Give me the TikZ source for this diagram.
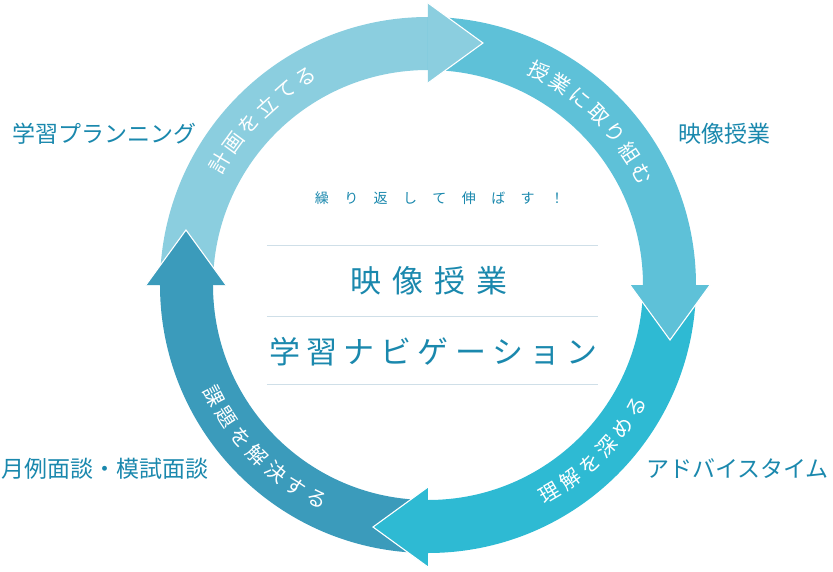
\documentclass[tikz,border=0pt]{standalone}
\usepackage{fontspec}
\setmainfont{Noto Sans CJK JP}
\definecolor{cA}{HTML}{8BCEDF}
\definecolor{cB}{HTML}{5EC1D8}
\definecolor{cC}{HTML}{2EBAD3}
\definecolor{cD}{HTML}{3B9BBB}
\definecolor{txt}{HTML}{1A88AD}
\definecolor{sep}{HTML}{CFDFE8}
\begin{document}
\begin{tikzpicture}[x=1pt,y=1pt,
  headedge/.style={draw=white,line width=1.1pt,line join=miter},
  bandtxt/.style={text=white,font=\fontsize{20.5}{20.5}\selectfont,inner sep=0pt},
  outlbl/.style={text=txt,font=\fontsize{23}{23}\selectfont,inner sep=0pt},
  sepline/.style={draw=sep,line width=0.9pt}]
\useasboundingbox (-428,-286) rectangle (405,285);
\def\Ro{268}\def\Ri{215}
% bands
\fill[cA] (180:\Ro) arc[start angle=180,end angle=90,radius=\Ro] -- (90:\Ri) arc[start angle=90,end angle=180,radius=\Ri] -- cycle;
\fill[cB] (90:\Ro) arc[start angle=90,end angle=0,radius=\Ro] -- (0:\Ri) arc[start angle=0,end angle=90,radius=\Ri] -- cycle;
\fill[cC] (0:\Ro) arc[start angle=0,end angle=-90,radius=\Ro] -- (-90:\Ri) arc[start angle=-90,end angle=0,radius=\Ri] -- cycle;
\fill[cD] (-90:\Ro) arc[start angle=-90,end angle=-180,radius=\Ro] -- (-180:\Ri) arc[start angle=-180,end angle=-90,radius=\Ri] -- cycle;
% arrow heads
\coordinate (h1a) at (0,282); \coordinate (h1t) at (55,242); \coordinate (h1b) at (0,202);
\coordinate (h2a) at (282,0); \coordinate (h2t) at (242,-55); \coordinate (h2b) at (202,0);
\coordinate (h3a) at (0,-282); \coordinate (h3t) at (-55,-242); \coordinate (h3b) at (0,-202);
\coordinate (h4a) at (-282,0); \coordinate (h4t) at (-242,55); \coordinate (h4b) at (-202,0);
\fill[cA] (h1a) -- (h1t) -- (h1b) -- cycle;
\draw[headedge] (h1a) -- (h1t) -- (h1b);
\fill[cB] (h2a) -- (h2t) -- (h2b) -- cycle;
\draw[headedge] (h2a) -- (h2t) -- (h2b);
\fill[cC] (h3a) -- (h3t) -- (h3b) -- cycle;
\draw[headedge] (h3a) -- (h3t) -- (h3b);
\fill[cD] (h4a) -- (h4t) -- (h4b) -- cycle;
\draw[headedge] (h4a) -- (h4t) -- (h4b);
% band texts
\def\pitch{5.85}\def\Rm{241}
\foreach \c [count=\i] in {計,画,を,立,て,る}
  \node[bandtxt,rotate={135+(3.5-\i)*\pitch-90}] (ta\i) at ({135+(3.5-\i)*\pitch}:\Rm) {\c};
\foreach \c [count=\i] in {授,業,に,取,り,組,む}
  \node[bandtxt,rotate={45+(4-\i)*\pitch-90}] (tb\i) at ({45+(4-\i)*\pitch}:\Rm) {\c};
\foreach \c [count=\i] in {理,解,を,深,め,る}
  \node[bandtxt,rotate={-45+(\i-3.5)*\pitch+90}] (tc\i) at ({-45+(\i-3.5)*\pitch}:\Rm) {\c};
\foreach \c [count=\i] in {課,題,を,解,決,す,る}
  \node[bandtxt,rotate={225+(\i-4)*\pitch+90}] (td\i) at ({225+(\i-4)*\pitch}:\Rm) {\c};
% center
\draw[sepline] (-161,40) -- (170,40);
\draw[sepline] (-161,-31) -- (170,-31);
\draw[sepline] (-161,-99) -- (170,-99);
\node[text=txt,font=\fontsize{14}{14}\selectfont,inner sep=0pt] (sub) at (11.5,87)
  {繰\hspace{15.4pt}り\hspace{15.4pt}返\hspace{15.4pt}し\hspace{15.4pt}て\hspace{15.4pt}伸\hspace{15.4pt}ば\hspace{15.4pt}す\hspace{15.4pt}！};
\node[text=txt,font=\fontsize{31}{31}\selectfont,inner sep=0pt] (m1) at (1,4.5)
  {映\hspace{11pt}像\hspace{11pt}授\hspace{11pt}業};
\node[text=txt,font=\fontsize{31}{31}\selectfont,inner sep=0pt] (m2) at (5.5,-67)
  {学\hspace{6.2pt}習\hspace{6.2pt}ナ\hspace{6.2pt}ビ\hspace{6.2pt}ゲ\hspace{6.2pt}ー\hspace{6.2pt}シ\hspace{6.2pt}ョ\hspace{6.2pt}ン};
% outer labels
\node[outlbl] (l1) at (-323,151) {学習プランニング};
\node[outlbl] (l2) at (296.5,151) {映像授業};
\node[outlbl] (l3) at (-323,-184) {月例面談・模試面談};
\node[outlbl] (l4) at (309.5,-184) {アドバイスタイム};
\end{tikzpicture}
\end{document}
